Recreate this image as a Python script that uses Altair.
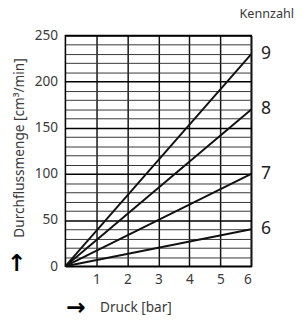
import altair as alt
import pandas as pd

# data
kennzahl = ["9", "8", "7", "6"]
druck_end = [6, 6, 6, 6]
flow_end = [230, 170, 100, 40]
x_ticks = [1, 2, 3, 4, 5, 6]
y_grid = list(range(0, 251, 10))

rows = []
for k, xe, ye in zip(kennzahl, druck_end, flow_end):
    rows.append({"k": k, "druck": 0, "flow": 0})
    rows.append({"k": k, "druck": xe, "flow": ye})
lines_df = pd.DataFrame(rows)
labels_df = pd.DataFrame({"k": kennzahl, "druck": druck_end, "flow": flow_end})
one = pd.DataFrame({"a": [0]})

FONT = "Noto Sans"
TXT = "#3a3a3a"

xs = alt.Scale(domain=[0, 6], nice=False)
ys = alt.Scale(domain=[0, 250], nice=False)

x_axis = alt.Axis(
    values=x_ticks, tickCount=20, format="d", title="Druck [bar]", grid=True,
    gridColor="#111", gridWidth=1.5,
    ticks=False, domain=False, labelPadding=7, labelFontSize=14, labelColor=TXT,
    labelFont=FONT, labelOverlap=False, titleFont=FONT, titleFontSize=14, titleFontWeight="normal",
    titleColor=TXT, titleX=35, titleY=43, titleAlign="left", titleBaseline="middle",
    titleAngle=0,
)
y_axis = alt.Axis(
    values=y_grid, tickCount=60, format="d", title="Durchflussmenge [cm³/min]",
    labelExpr="datum.value % 50 === 0 ? datum.label : ''",
    labelOverlap=False,
    grid=True,
    gridColor={"condition": {"test": "datum.value % 50 === 0", "value": "#000"}, "value": "#333"},
    gridWidth={"condition": {"test": "datum.value % 50 === 0", "value": 1.6}, "value": 1},
    ticks=False, domain=False, labelPadding=8, labelFontSize=14, labelColor=TXT,
    labelFont=FONT, titleFont=FONT, titleFontSize=14, titleFontWeight="normal",
    titleColor=TXT, titleX=-47, titleY=115, titleAlign="center", titleBaseline="middle",
    titleAngle=270,
)

lines = alt.Chart(lines_df).mark_line(color="#111", strokeWidth=2).encode(
    x=alt.X("druck:Q", scale=xs, axis=x_axis),
    y=alt.Y("flow:Q", scale=ys, axis=y_axis),
    detail="k:N",
)

labels = alt.Chart(labels_df).mark_text(
    align="left", baseline="middle", dx=10, fontSize=18, font=FONT, color="#222"
).encode(
    x=alt.X("druck:Q", scale=xs, axis=x_axis),
    y=alt.Y("flow:Q", scale=ys, axis=y_axis),
    text="k:N",
)

up_arrow = alt.Chart(one).mark_text(
    text="↑", fontSize=24, fontWeight="bold", font="DejaVu Sans", color="#000",
    align="center", baseline="middle",
).encode(x=alt.value(-50), y=alt.value(235))

right_arrow = alt.Chart(one).mark_text(
    text="→", fontSize=24, fontWeight="bold", font="DejaVu Sans", color="#000",
    align="center", baseline="middle",
).encode(x=alt.value(11), y=alt.value(280))

chart = alt.layer(lines, labels, up_arrow, right_arrow).properties(
    width=191, height=237,
    autosize=alt.AutoSizeParams(type="none"),
    padding={"left": 59, "top": 24, "right": 47, "bottom": 54},
    title=alt.TitleParams(
        text="Kennzahl", anchor="end", frame="group", dx=44, offset=8,
        fontSize=13, font=FONT, fontWeight="normal", color=TXT,
    ),
).configure_view(stroke="#000", strokeWidth=1.6)

chart.save("out.html", embed_options={"renderer": "svg", "actions": False})
